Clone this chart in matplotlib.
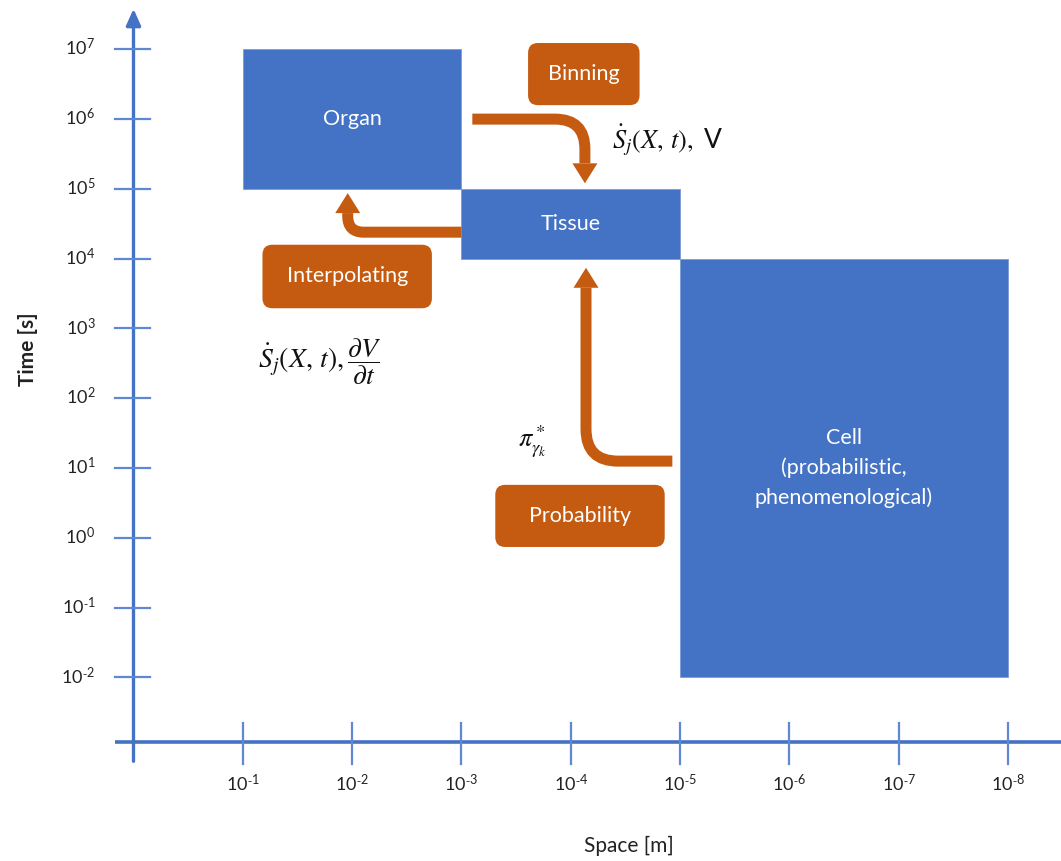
import numpy as np
import matplotlib
matplotlib.use('Agg')
import matplotlib.pyplot as plt
from matplotlib.patches import Rectangle, FancyBboxPatch, PathPatch, Polygon, FancyArrowPatch
from matplotlib.path import Path
from matplotlib.transforms import IdentityTransform

plt.rcParams['font.family'] = ['Lato', 'DejaVu Sans']
plt.rcParams['mathtext.fontset'] = 'stix'

BLUE = '#4472C4'
ORANGE = '#C55A11'

# axes: x = k for space 10^-k, y = e for time 10^e
space_exp = [1, 2, 3, 4, 5, 6, 7, 8]
time_exp = [7, 6, 5, 4, 3, 2, 1, 0, -1, -2]

# modelling scales (space exponent range, time exponent range)
scale_names = ['Organ', 'Tissue', 'Cell\n(probabilistic,\nphenomenological)']
scale_space = [(1, 3), (3, 5), (5, 8)]
scale_time = [(5, 7), (4, 5), (-2, 4)]

# coupling methods: label boxes (x0, x1, y0, y1)
method_names = ['Binning', 'Interpolating', 'Probability']
method_boxes = [(3.61, 4.63, 6.20, 7.09),
                (1.18, 2.73, 3.29, 4.20),
                (3.31, 4.86, -0.13, 0.76)]

# bent arrows: start, corner, tip
arrow_paths = [[(3.10, 6.00), (4.13, 6.00), (4.13, 5.08)],
               [(3.00, 4.38), (1.96, 4.38), (1.96, 4.94)],
               [(4.93, 1.10), (4.14, 1.10), (4.14, 3.87)]]
arrow_radius = [30, 16, 32]

formulas = [r'$\dot{S}_j(X,\,t),$ V',
            r'$\dot{S}_j(X,\,t),\dfrac{\partial V}{\partial t}$',
            r'$\pi^*_{\gamma_k}$']
formula_pos = [(4.38, 5.70), (1.14, 2.52), (3.52, 1.38)]
formula_size = [19, 20, 19]

# pixel layout of the decade grid
PX_X0, PX_PER_X = 133.5, 109.3
PX_Y7, PX_PER_Y = 49.3, 69.8
W, H = 1061, 861

fig = plt.figure(figsize=(W / 100, H / 100), dpi=100)
ax = fig.add_axes([0, 0, 1, 1])
ax.set_xlim(-PX_X0 / PX_PER_X, (W - PX_X0) / PX_PER_X)
ax.set_ylim(7 - (H - PX_Y7) / PX_PER_Y, 7 + PX_Y7 / PX_PER_Y)
ax.axis('off')

x_axis_y = -2.917
y_axis_top = 7.62


def power_label(e):
    exp = str(e).replace('-', r'\text{-}')
    return r'$\mathregular{10^{%s}}$' % exp


# axis lines
ax.plot([-0.17, ax.get_xlim()[1]], [x_axis_y, x_axis_y], color=BLUE, lw=2.6,
        solid_capstyle='butt', zorder=3)
ax.add_patch(FancyArrowPatch((0, -3.24), (0, y_axis_top),
                             arrowstyle='-|>,head_length=0.45,head_width=0.2',
                             mutation_scale=22, color=BLUE, lw=2.4, zorder=3))

# ticks
for e in time_exp:
    ax.plot([-0.17, 0.155], [e, e], color='#5F87D2', lw=1.6, zorder=3)
    ax.text(-0.35, e + 0.02, power_label(e), ha='right', va='center',
            fontsize=13, color='#222222')
for k in space_exp:
    ax.plot([k, k], [x_axis_y + 0.27, x_axis_y - 0.32], color='#5F87D2', lw=1.6, zorder=3)
    ax.text(k, x_axis_y - 0.60, power_label(-k), ha='center', va='center',
            fontsize=13, color='#222222')

ax.text(ax.get_xlim()[0] + 0.255, 2.7, 'Time [s]', rotation=90, ha='center', va='center',
        fontsize=15, fontweight='bold', color='#222222')
ax.text(4.53, x_axis_y - 1.50, 'Space [m]', ha='center', va='center',
        fontsize=15, color='#222222')

# scale rectangles
for name, (x0, x1), (y0, y1) in zip(scale_names, scale_space, scale_time):
    ax.add_patch(Rectangle((x0, y0), x1 - x0, y1 - y0, facecolor=BLUE,
                           edgecolor='#7C9BD6', lw=0.6, zorder=2))
    ty = (y0 + y1) / 2
    if name.startswith('Cell'):
        ty = 1.0
    ax.text((x0 + x1) / 2, ty, name, ha='center', va='center', color='white',
            fontsize=15.5, linespacing=1.55, zorder=4)

# method boxes
aspect = PX_PER_X / PX_PER_Y
for name, (x0, x1, y0, y1) in zip(method_names, method_boxes):
    ax.add_patch(FancyBboxPatch((x0, y0), x1 - x0, y1 - y0,
                                boxstyle='round,pad=0,rounding_size=0.09',
                                mutation_aspect=aspect, facecolor=ORANGE,
                                edgecolor='none', zorder=4))
    ax.text((x0 + x1) / 2, (y0 + y1) / 2, name, ha='center', va='center',
            color='white', fontsize=15.5, zorder=5)


def bent_arrow(pts, radius, shaft=11, head_w=25, head_l=20):
    p0, p1, p2 = ax.transData.transform(pts)
    d1 = (p1 - p0) / np.linalg.norm(p1 - p0)
    d2 = (p2 - p1) / np.linalg.norm(p2 - p1)
    base = p2 - d2 * head_l
    verts = [p0, p1 - d1 * radius, p1, p1 + d2 * radius, base]
    codes = [Path.MOVETO, Path.LINETO, Path.CURVE3, Path.CURVE3, Path.LINETO]
    ax.add_patch(PathPatch(Path(verts, codes), fill=False, edgecolor=ORANGE,
                           lw=shaft * 0.72, capstyle='butt', joinstyle='round',
                           transform=IdentityTransform(), zorder=4))
    n = np.array([-d2[1], d2[0]])
    ax.add_patch(Polygon([p2, base + n * head_w / 2, base - n * head_w / 2],
                         closed=True, facecolor=ORANGE, edgecolor='none',
                         transform=IdentityTransform(), zorder=4))


for pts, r in zip(arrow_paths, arrow_radius):
    bent_arrow(pts, r)

for txt, (x, y), fs in zip(formulas, formula_pos, formula_size):
    ax.text(x, y, txt, ha='left', va='center', fontsize=fs, color='#111111', zorder=5)

fig.savefig('out.png', dpi=100)
